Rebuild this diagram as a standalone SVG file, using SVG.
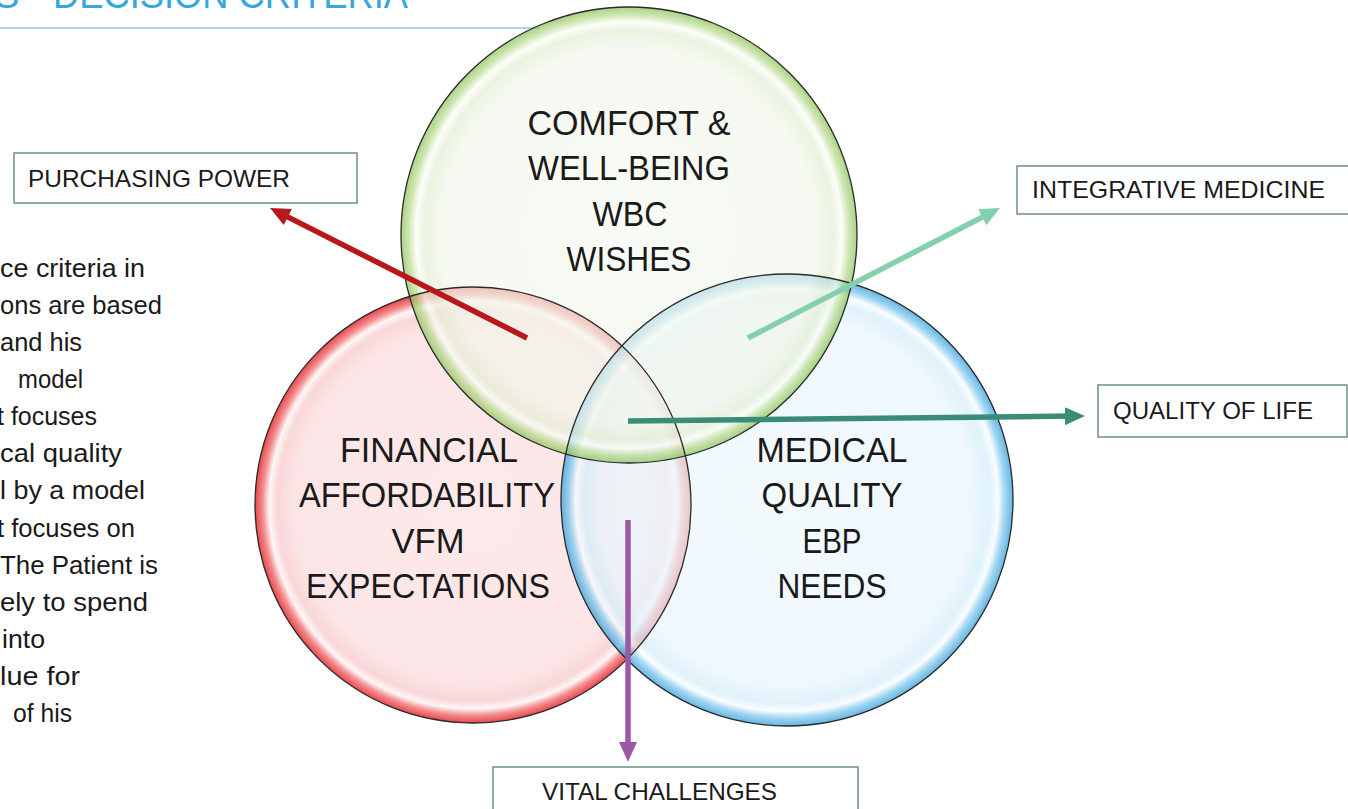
<svg xmlns="http://www.w3.org/2000/svg" width="1348" height="809" viewBox="0 0 1348 809">
<style>
.t{font-family:"Liberation Sans",Arial,sans-serif;fill:#1a1a1a}
.big{font-size:35px;text-anchor:middle}
.lbl{font-size:24px}
.para{font-size:26px}
.box{fill:#fff;stroke:#6f8f87;stroke-width:1.5}
.ring{fill:none;stroke:#2a2a2a;stroke-width:1.3}
.arr{fill:none;stroke-width:5.5;stroke-linecap:butt}
</style>
<defs>
<radialGradient id="gG">
<stop offset="0" stop-color="#f6f9f2"/>
<stop offset="0.82" stop-color="#f1f6ea"/>
<stop offset="0.9" stop-color="#e3efd3"/>
<stop offset="0.935" stop-color="#fbfdf7"/>
<stop offset="0.965" stop-color="#bcdc95"/>
<stop offset="1" stop-color="#86c04f"/>
</radialGradient>
<radialGradient id="gR">
<stop offset="0" stop-color="#fde6e7"/>
<stop offset="0.82" stop-color="#fbe0e1"/>
<stop offset="0.9" stop-color="#f8d0d2"/>
<stop offset="0.935" stop-color="#fff4f4"/>
<stop offset="0.965" stop-color="#f17a7c"/>
<stop offset="1" stop-color="#e3282d"/>
</radialGradient>
<radialGradient id="gB">
<stop offset="0" stop-color="#eef8fd"/>
<stop offset="0.82" stop-color="#e7f5fc"/>
<stop offset="0.9" stop-color="#d3edf9"/>
<stop offset="0.935" stop-color="#f6fcff"/>
<stop offset="0.965" stop-color="#7cc6ec"/>
<stop offset="1" stop-color="#2a9ad8"/>
</radialGradient>
<marker id="mRed" viewBox="0 0 20 18" refX="8" refY="9" markerWidth="20" markerHeight="18" markerUnits="userSpaceOnUse" orient="auto"><path d="M0,0 L20,9 L0,18 z" fill="#b8171c"/></marker>
<marker id="mMint" viewBox="0 0 20 18" refX="8" refY="9" markerWidth="20" markerHeight="18" markerUnits="userSpaceOnUse" orient="auto"><path d="M0,0 L20,9 L0,18 z" fill="#84d0ad"/></marker>
<marker id="mTeal" viewBox="0 0 20 18" refX="8" refY="9" markerWidth="20" markerHeight="18" markerUnits="userSpaceOnUse" orient="auto"><path d="M0,0 L20,9 L0,18 z" fill="#3a8c78"/></marker>
<marker id="mPurple" viewBox="0 0 20 18" refX="8" refY="9" markerWidth="20" markerHeight="18" markerUnits="userSpaceOnUse" orient="auto"><path d="M0,0 L20,9 L0,18 z" fill="#9c57a5"/></marker>
</defs>
<rect width="1348" height="809" fill="#fff"/>
<g id="title">
<text x="-6" y="8" font-family="Liberation Sans, Arial, sans-serif" font-size="38" fill="#35a7d9">S</text>
<text x="53" y="8" font-family="Liberation Sans, Arial, sans-serif" font-size="38" fill="#35a7d9" textLength="355" lengthAdjust="spacingAndGlyphs">DECISION CRITERIA</text>
<line x1="0" y1="28" x2="540" y2="28" stroke="#a6d8ea" stroke-width="2"/>
</g>
<g id="paragraph" class="t para">
<text x="0" y="277" textLength="145" lengthAdjust="spacingAndGlyphs">ce criteria in</text>
<text x="0" y="314" textLength="162" lengthAdjust="spacingAndGlyphs">ons are based</text>
<text x="0" y="351" textLength="82" lengthAdjust="spacingAndGlyphs">and his</text>
<text x="18" y="388" textLength="65" lengthAdjust="spacingAndGlyphs">model</text>
<text x="-3" y="425" textLength="100" lengthAdjust="spacingAndGlyphs">t focuses</text>
<text x="0" y="462" textLength="122" lengthAdjust="spacingAndGlyphs">cal quality</text>
<text x="0" y="499" textLength="145" lengthAdjust="spacingAndGlyphs">l by a model</text>
<text x="-3" y="537" textLength="138" lengthAdjust="spacingAndGlyphs">t focuses on</text>
<text x="0" y="574" textLength="158" lengthAdjust="spacingAndGlyphs">The Patient is</text>
<text x="0" y="611" textLength="148" lengthAdjust="spacingAndGlyphs">ely to spend</text>
<text x="2" y="648" textLength="43" lengthAdjust="spacingAndGlyphs">into</text>
<text x="0" y="685" textLength="80" lengthAdjust="spacingAndGlyphs">lue for</text>
<text x="13" y="722" textLength="59" lengthAdjust="spacingAndGlyphs">of his</text>
</g>
<g id="circle-financial">
<circle cx="473" cy="505" r="218" fill="url(#gR)" fill-opacity="0.85"/>
</g>
<g id="circle-medical">
<circle cx="787" cy="500" r="226" fill="url(#gB)" fill-opacity="0.72"/>
</g>
<g id="circle-comfort">
<circle cx="629" cy="235" r="228" fill="url(#gG)" fill-opacity="0.7"/>
</g>
<g id="outlines">
<circle class="ring" cx="473" cy="505" r="218"/>
<circle class="ring" cx="787" cy="500" r="226"/>
<circle class="ring" cx="629" cy="235" r="228"/>
</g>
<g id="label-comfort" class="t big">
<text x="629" y="135" textLength="203" lengthAdjust="spacingAndGlyphs">COMFORT &amp;</text>
<text x="629" y="180" textLength="202" lengthAdjust="spacingAndGlyphs">WELL-BEING</text>
<text x="630" y="226" textLength="75" lengthAdjust="spacingAndGlyphs">WBC</text>
<text x="629" y="271" textLength="125" lengthAdjust="spacingAndGlyphs">WISHES</text>
</g>
<g id="label-financial" class="t big">
<text x="429" y="462" textLength="178" lengthAdjust="spacingAndGlyphs">FINANCIAL</text>
<text x="427" y="507" textLength="256" lengthAdjust="spacingAndGlyphs">AFFORDABILITY</text>
<text x="428" y="553" textLength="73" lengthAdjust="spacingAndGlyphs">VFM</text>
<text x="428" y="598" textLength="244" lengthAdjust="spacingAndGlyphs">EXPECTATIONS</text>
</g>
<g id="label-medical" class="t big">
<text x="832" y="462" textLength="151" lengthAdjust="spacingAndGlyphs">MEDICAL</text>
<text x="832" y="507" textLength="141" lengthAdjust="spacingAndGlyphs">QUALITY</text>
<text x="832" y="553" textLength="59" lengthAdjust="spacingAndGlyphs">EBP</text>
<text x="832" y="598" textLength="109" lengthAdjust="spacingAndGlyphs">NEEDS</text>
</g>
<g id="connectors">
<path class="arr" d="M527,338 L280.7,213.4" stroke="#b8171c" marker-end="url(#mRed)"/>
<path class="arr" d="M748,338 L989.3,213.5" stroke="#84d0ad" marker-end="url(#mMint)"/>
<path class="arr" d="M628,421 L1073,416.1" stroke="#3a8c78" marker-end="url(#mTeal)"/>
<path class="arr" d="M628,520 L628,750" stroke="#9c57a5" marker-end="url(#mPurple)"/>
</g>
<g id="box-purchasing">
<rect class="box" x="14" y="153" width="343" height="50"/>
<text class="t lbl" x="28" y="187" textLength="262" lengthAdjust="spacingAndGlyphs">PURCHASING POWER</text>
</g>
<g id="box-integrative">
<rect class="box" x="1017" y="166" width="340" height="48"/>
<text class="t lbl" x="1032" y="198" textLength="293" lengthAdjust="spacingAndGlyphs">INTEGRATIVE MEDICINE</text>
</g>
<g id="box-quality">
<rect class="box" x="1098" y="385" width="249" height="52"/>
<text class="t lbl" x="1113" y="419" textLength="200" lengthAdjust="spacingAndGlyphs">QUALITY OF LIFE</text>
</g>
<g id="box-vital">
<rect class="box" x="493" y="767" width="365" height="60"/>
<text class="t lbl" x="542" y="800" textLength="235" lengthAdjust="spacingAndGlyphs">VITAL CHALLENGES</text>
</g>
</svg>
